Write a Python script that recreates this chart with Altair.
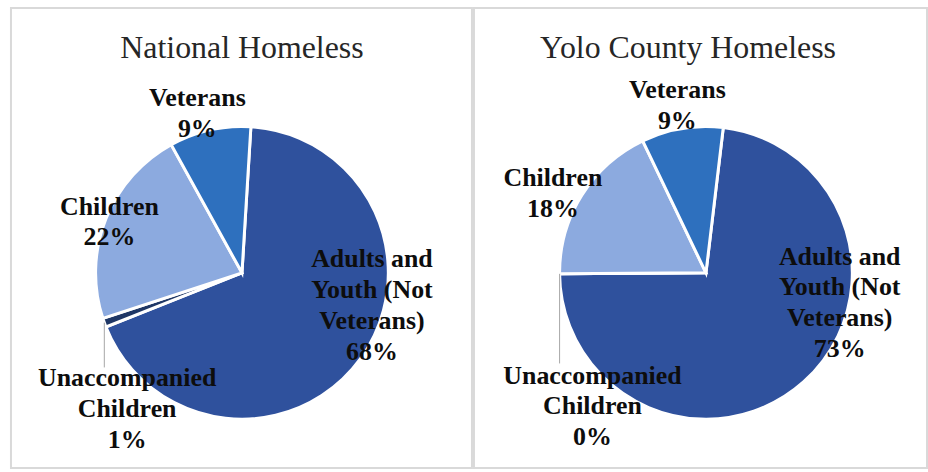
import math
import altair as alt
import pandas as pd

# ---- data ----
categories = ["Adults and Youth (Not Veterans)", "Unaccompanied Children", "Children", "Veterans"]
display_names = ["Adults and\nYouth (Not\nVeterans)", "Unaccompanied\nChildren", "Children", "Veterans"]
national_values = [68, 1, 22, 9]
yolo_values = [73, 0, 18, 9]
panel_titles = ["National Homeless", "Yolo County Homeless"]

# ---- style / layout ----
colors = ["#2F519D", "#1F3766", "#8CAADF", "#2E70BE"]
FONT = "Liberation Serif"
R = 147
LINE_H = 31
# per panel: width, center, first-slice angle (deg), title x, leader end (rel to cy)
PANELS = [
    dict(width=463, cx=232, cy=266, start=3.5, title_x=232, leader_end=95),
    dict(width=455, cx=233, cy=266, start=6.8, title_x=215, leader_end=91),
]
# label placement per panel: category -> (radius, dx, dy) for the label block centre
LABEL_LAYOUT = [
    {
        categories[0]: (134, 22, -46),
        categories[1]: (179, 53, 76),
        categories[2]: (142, -1, 1),
        categories[3]: (163, -9, -1),
    },
    {
        categories[0]: (137, 43, -72),
        categories[1]: (176, 62, 133),
        categories[2]: (173, -7, 12),
        categories[3]: (170, -1, 0),
    },
]


def make_panel(i, values):
    p = PANELS[i]
    cx, cy = p["cx"], p["cy"]
    start = math.radians(p["start"])
    total = sum(values)
    df = pd.DataFrame({
        "cat": categories,
        "name": display_names,
        "value": values,
        "order": list(range(len(categories))),
    })
    base = alt.Chart(df)
    theta_scale = alt.Scale(domain=[0, total], range=[start, start + 2 * math.pi])

    arcs = base.mark_arc(outerRadius=R, stroke="white", strokeWidth=3).encode(
        theta=alt.Theta("value:Q", stack=True, scale=theta_scale),
        color=alt.Color("cat:N", scale=alt.Scale(domain=categories, range=colors), legend=None),
        order=alt.Order("order:Q"),
        x=alt.value(cx),
        y=alt.value(cy),
    )

    cum = base.transform_window(
        cum="sum(value)", sort=[alt.SortField("order")], frame=[None, 0]
    ).transform_calculate(
        mid="datum.cum - datum.value / 2",
        text="datum.name + '\\n' + datum.value + '%'",
    )

    layers = [arcs]
    for k, cat in enumerate(categories):
        r, dx, dy = LABEL_LAYOUT[i][cat]
        n_lines = display_names[k].count("\n") + 2
        dy_block = dy - (n_lines - 1) * LINE_H / 2
        layers.append(
            cum.transform_filter(alt.datum.cat == cat).mark_text(
                font=FONT, fontSize=26, fontWeight="bold", lineBreak="\n",
                lineHeight=LINE_H, color="#0d0d0d", align="center", baseline="middle",
                dx=dx, dy=dy_block,
            ).encode(
                theta=alt.Theta("mid:Q", scale=theta_scale),
                radius=alt.value(r),
                text="text:N",
                x=alt.value(cx),
                y=alt.value(cy),
            )
        )

    leader = cum.transform_filter(alt.datum.cat == categories[1]).transform_calculate(
        ang=f"{start} + datum.mid / {total} * 2 * PI",
        lx=f"{cx} + {R} * sin(datum.ang)",
        ly=f"{cy} - {R} * cos(datum.ang)",
        ly2=f"{cy + p['leader_end']}",
    ).mark_rule(color="#a6a6a6", strokeWidth=1).encode(
        x=alt.X("lx:Q", scale=None, axis=None),
        y=alt.Y("ly:Q", scale=None, axis=None),
        y2="ly2:Q",
    )
    layers.append(leader)

    title = alt.Chart(pd.DataFrame({"t": [panel_titles[i]]})).mark_text(
        font=FONT, fontSize=32, color="#262626", align="center", baseline="middle"
    ).encode(text="t:N", x=alt.value(p["title_x"]), y=alt.value(40))
    layers.append(title)

    return alt.layer(*layers).properties(width=p["width"], height=462)


chart = alt.hconcat(
    make_panel(0, national_values), make_panel(1, yolo_values), spacing=0
).properties(
    padding={"left": 10, "top": 6, "right": 0, "bottom": 0},
    background="white",
).configure_view(stroke="#d9d9d9", strokeWidth=2)

chart.save("out.html", embed_options={"renderer": "svg", "actions": False})
